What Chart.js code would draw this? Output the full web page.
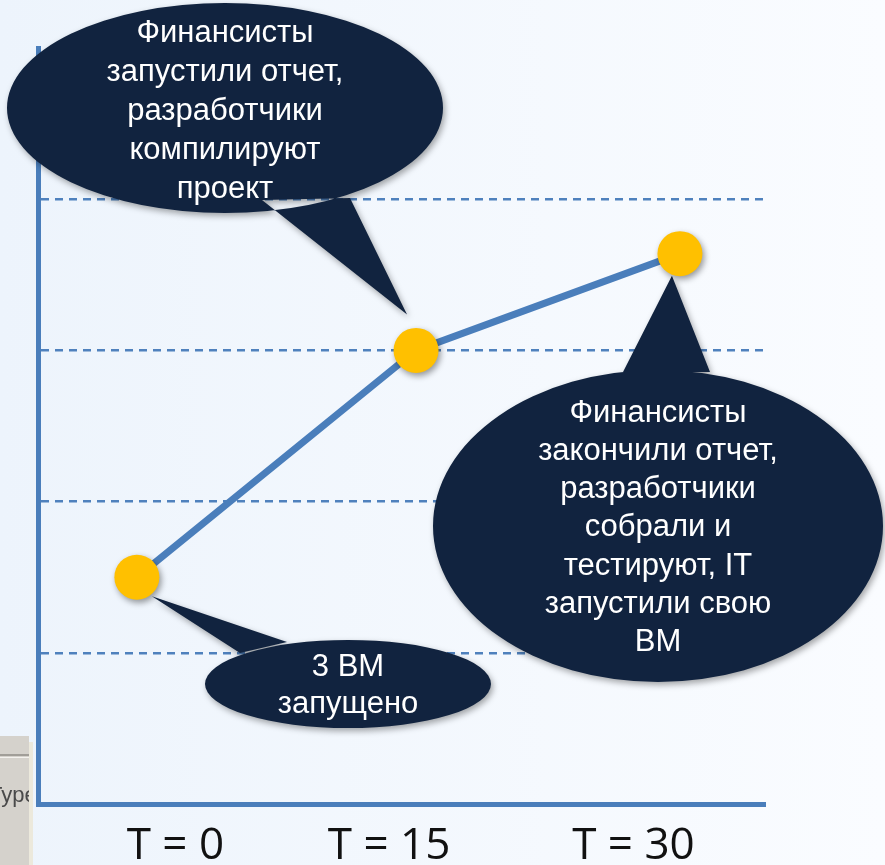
<!DOCTYPE html>
<html>
<head>
<meta charset="utf-8">
<script src="https://cdn.jsdelivr.net/npm/chart.js@4/dist/chart.umd.min.js"></script>
<style>
  html, body { margin: 0; padding: 0; background: #f3f8fd; }
  #c { display: block; }
</style>
</head>
<body>
<canvas id="c" width="885" height="865"></canvas>
<script>
'use strict';
// data
var pointX = [13.6, 52.0, 88.3];
var pointY = [1.5, 3.0, 3.64];
var tickPositions = [18.9, 48.3, 81.9];
var tickLabels = ['T = 0', 'T = 15', 'T = 30'];
var gridValues = [1, 2, 3, 4];
var calloutTexts = [
  ['Финансисты', 'запустили отчет,', 'разработчики', 'компилируют', 'проект'],
  ['Финансисты', 'закончили отчет,', 'разработчики', 'собрали и', 'тестируют, IT', 'запустили свою', 'ВМ'],
  ['3 ВМ', 'запущено']
];
var calloutPoint = [1, 2, 0];

var axisBlue = '#4a7ebb';
var navy = '#11233f';

var points = [];
for (var i in pointX) {
  points.push({x: pointX[i], y: pointY[i]});
}

// ellipse + tail layout for each callout (tail tip is offset from its point)
var calloutShapes = [
  {cx: 225, cy: 108, rx: 218, ry: 105, base: [[262, 200], [350, 198]], tip: [-9, -36], textY: 33, lh: 39},
  {cx: 658, cy: 526, rx: 225, ry: 156, base: [[623, 372], [710, 372]], tip: [-8, 22], textY: 413, lh: 38.3},
  {cx: 348, cy: 684, rx: 143, ry: 44, base: [[240, 653], [287, 642]], tip: [15, 19], textY: 667, lh: 37}
];

var backgroundPlugin = {
  id: 'background',
  beforeDraw: function(chart) {
    var ctx = chart.ctx;
    var g = ctx.createLinearGradient(0, 0, chart.width, 0);
    g.addColorStop(0, '#edf4fc');
    g.addColorStop(1, '#fafcff');
    ctx.save();
    ctx.fillStyle = g;
    ctx.fillRect(0, 0, chart.width, chart.height);
    // leftover window fragment in the corner
    ctx.fillStyle = '#d5d2cc';
    ctx.fillRect(0, 736, 29, 129);
    ctx.fillStyle = '#ece9dc';
    ctx.fillRect(29, 742, 4, 123);
    ctx.fillStyle = '#a19e98';
    ctx.fillRect(0, 754, 29, 2);
    ctx.fillStyle = '#f4f2ee';
    ctx.fillRect(0, 757, 29, 1);
    ctx.beginPath();
    ctx.rect(0, 736, 29, 129);
    ctx.clip();
    ctx.fillStyle = '#4a4a4a';
    ctx.font = '22px "Liberation Sans", Arial, sans-serif';
    ctx.textBaseline = 'alphabetic';
    ctx.fillText('Type', -11, 802);
    ctx.restore();
  }
};

var calloutPlugin = {
  id: 'callouts',
  beforeDatasetsDraw: function(chart) {
    var ctx = chart.ctx;
    var meta = chart.getDatasetMeta(1);
    for (var k in calloutShapes) {
      var s = calloutShapes[k];
      var pt = meta.data[calloutPoint[k]];
      var tx = pt.x + s.tip[0];
      var ty = pt.y + s.tip[1];
      ctx.save();
      ctx.shadowColor = 'rgba(0,0,0,0.35)';
      ctx.shadowBlur = 6;
      ctx.shadowOffsetX = 2;
      ctx.shadowOffsetY = 3;
      ctx.fillStyle = navy;
      ctx.beginPath();
      ctx.ellipse(s.cx, s.cy, s.rx, s.ry, 0, 0, Math.PI * 2);
      ctx.moveTo(s.base[0][0], s.base[0][1]);
      ctx.lineTo(tx, ty);
      ctx.lineTo(s.base[1][0], s.base[1][1]);
      ctx.closePath();
      ctx.fill();
      ctx.restore();

      ctx.save();
      ctx.fillStyle = '#ffffff';
      ctx.font = '31px Arial, "Liberation Sans", sans-serif';
      ctx.textAlign = 'center';
      ctx.textBaseline = 'middle';
      var lines = calloutTexts[k];
      for (var j = 0; j < lines.length; j++) {
        ctx.fillText(lines[j], s.cx, s.textY + j * s.lh);
      }
      ctx.restore();
    }
  },
  beforeDatasetDraw: function(chart, args) {
    if (args.index === 1) {
      var ctx = chart.ctx;
      ctx.save();
      ctx.shadowColor = 'rgba(0,0,0,0.4)';
      ctx.shadowBlur = 6;
      ctx.shadowOffsetX = 2;
      ctx.shadowOffsetY = 3;
    }
  },
  afterDatasetDraw: function(chart, args) {
    if (args.index === 1) {
      chart.ctx.restore();
    }
  }
};

var ctx = document.getElementById('c');
var myChart = new Chart(ctx, {
  type: 'line',
  data: {
    datasets: [{
      data: points,
      borderColor: axisBlue,
      borderWidth: 7,
      pointRadius: 0,
      fill: false,
      tension: 0,
      order: 2
    }, {
      data: points,
      showLine: false,
      pointRadius: 22.5,
      pointHoverRadius: 22.5,
      pointBackgroundColor: '#ffc000',
      pointBorderWidth: 0,
      order: 1
    }]
  },
  options: {
    responsive: false,
    animation: false,
    events: [],
    layout: {padding: {left: 38, top: 48, right: 120, bottom: 0}},
    plugins: {legend: {display: false}, tooltip: {enabled: false}},
    scales: {
      x: {
        type: 'linear',
        min: 0,
        max: 100,
        afterFit: function(scale) { scale.height = 61; },
        afterBuildTicks: function(scale) {
          scale.ticks = tickPositions.map(function(v) { return {value: v}; });
        },
        ticks: {
          autoSkip: false,
          maxRotation: 0,
          padding: 16,
          color: '#111111',
          font: {family: '"Open Sans", sans-serif', size: 44},
          callback: function(value, index) { return tickLabels[index]; }
        },
        grid: {display: false, drawTicks: false},
        border: {display: true, color: axisBlue, width: 5}
      },
      y: {
        min: 0,
        max: 5,
        afterFit: function(scale) { scale.width = 0; },
        afterBuildTicks: function(scale) {
          scale.ticks = [0, 1, 2, 3, 4, 5].map(function(v) { return {value: v}; });
        },
        ticks: {display: false},
        grid: {
          drawTicks: false,
          lineWidth: 2.5,
          color: function(c) {
            return gridValues.indexOf(c.tick && c.tick.value) >= 0 ? '#4f81bd' : 'rgba(0,0,0,0)';
          }
        },
        border: {display: true, color: axisBlue, width: 5, dash: [8, 6]}
      }
    }
  },
  plugins: [backgroundPlugin, calloutPlugin]
});
</script>
</body>
</html>
